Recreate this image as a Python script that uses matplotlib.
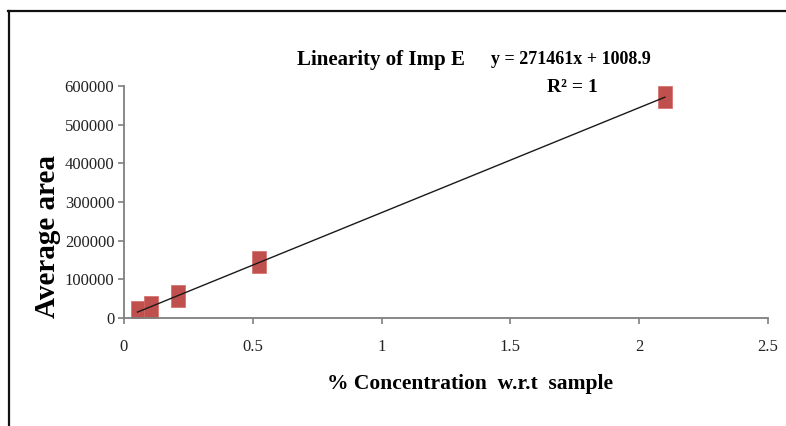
import matplotlib
matplotlib.use("Agg")
import matplotlib.pyplot as plt
from matplotlib.lines import Line2D
import numpy as np

# values
conc = [0.0525, 0.105, 0.21, 0.525, 2.1]
area = [15200, 29600, 58100, 143700, 571100]
xticks = [0, 0.5, 1, 1.5, 2, 2.5]
yticks = [0, 100000, 200000, 300000, 400000, 500000, 600000]

red = "#C0504D"
axcol = "#7f7f7f"

plt.rcParams["font.family"] = ["Liberation Serif", "DejaVu Serif"]

fig = plt.figure(figsize=(7.86, 4.26), dpi=100)
ax = fig.add_axes([124/786, 1 - 318/426, (768 - 124)/786, (318 - 86)/426])

# trendline (least squares fit)
slope, icpt = np.polyfit(conc, area, 1)
xs = np.array([min(conc), max(conc)])
ax.plot(xs, slope*xs + icpt, color="#1a1a1a", lw=1.0, zorder=3)

# tall red rectangles as markers
rect = [(-0.32, -0.5), (0.32, -0.5), (0.32, 0.5), (-0.32, 0.5), (-0.32, -0.5)]
ax.plot(conc, area, linestyle="none", marker=rect, markersize=16,
        color=red, markeredgecolor="#d46a67", markeredgewidth=0.5, zorder=2)

ax.set_xlim(0, 2.5)
ax.set_ylim(0, 600000)
ax.set_xticks(xticks)
ax.set_xticklabels(["0", "0.5", "1", "1.5", "2", "2.5"])
ax.set_yticks(yticks)
ax.set_yticklabels([str(v) for v in yticks])

for s in ["top", "right"]:
    ax.spines[s].set_visible(False)
for s in ["left", "bottom"]:
    ax.spines[s].set_color(axcol)
    ax.spines[s].set_linewidth(1.3)
ax.tick_params(axis="both", direction="out", length=4, width=1.2, color=axcol,
               labelsize=12, labelcolor="#222222")
ax.tick_params(axis="x", pad=11)
ax.tick_params(axis="y", pad=3)

ax.set_xlabel("% Concentration  w.r.t  sample", fontsize=15.5, fontweight="bold")
ax.xaxis.set_label_coords((470 - 124)/644, (318 - 374)/232)
ax.set_ylabel("Average area", fontsize=21, fontweight="bold")
ax.yaxis.set_label_coords((61 - 124)/644, (318 - 236)/232)

fig.text(381/786, 1 - 60/426, "Linearity of Imp E", ha="center", va="center",
         fontsize=15, fontweight="bold")
fig.text(571/786, 1 - 59/426, "y = 271461x + 1008.9", ha="center", va="center",
         fontsize=13, fontweight="bold")
fig.text(572/786, 1 - 87/426, "R² = 1", ha="center", va="center",
         fontsize=14, fontweight="bold")

# outer frame lines (top and left)
fig.add_artist(Line2D([8/786, 1], [1 - 11/426, 1 - 11/426],
                      transform=fig.transFigure, color="#111111", lw=1.6))
fig.add_artist(Line2D([9/786, 9/786], [0, 1 - 11/426],
                      transform=fig.transFigure, color="#111111", lw=1.6))

fig.savefig("out.png", dpi=100)
